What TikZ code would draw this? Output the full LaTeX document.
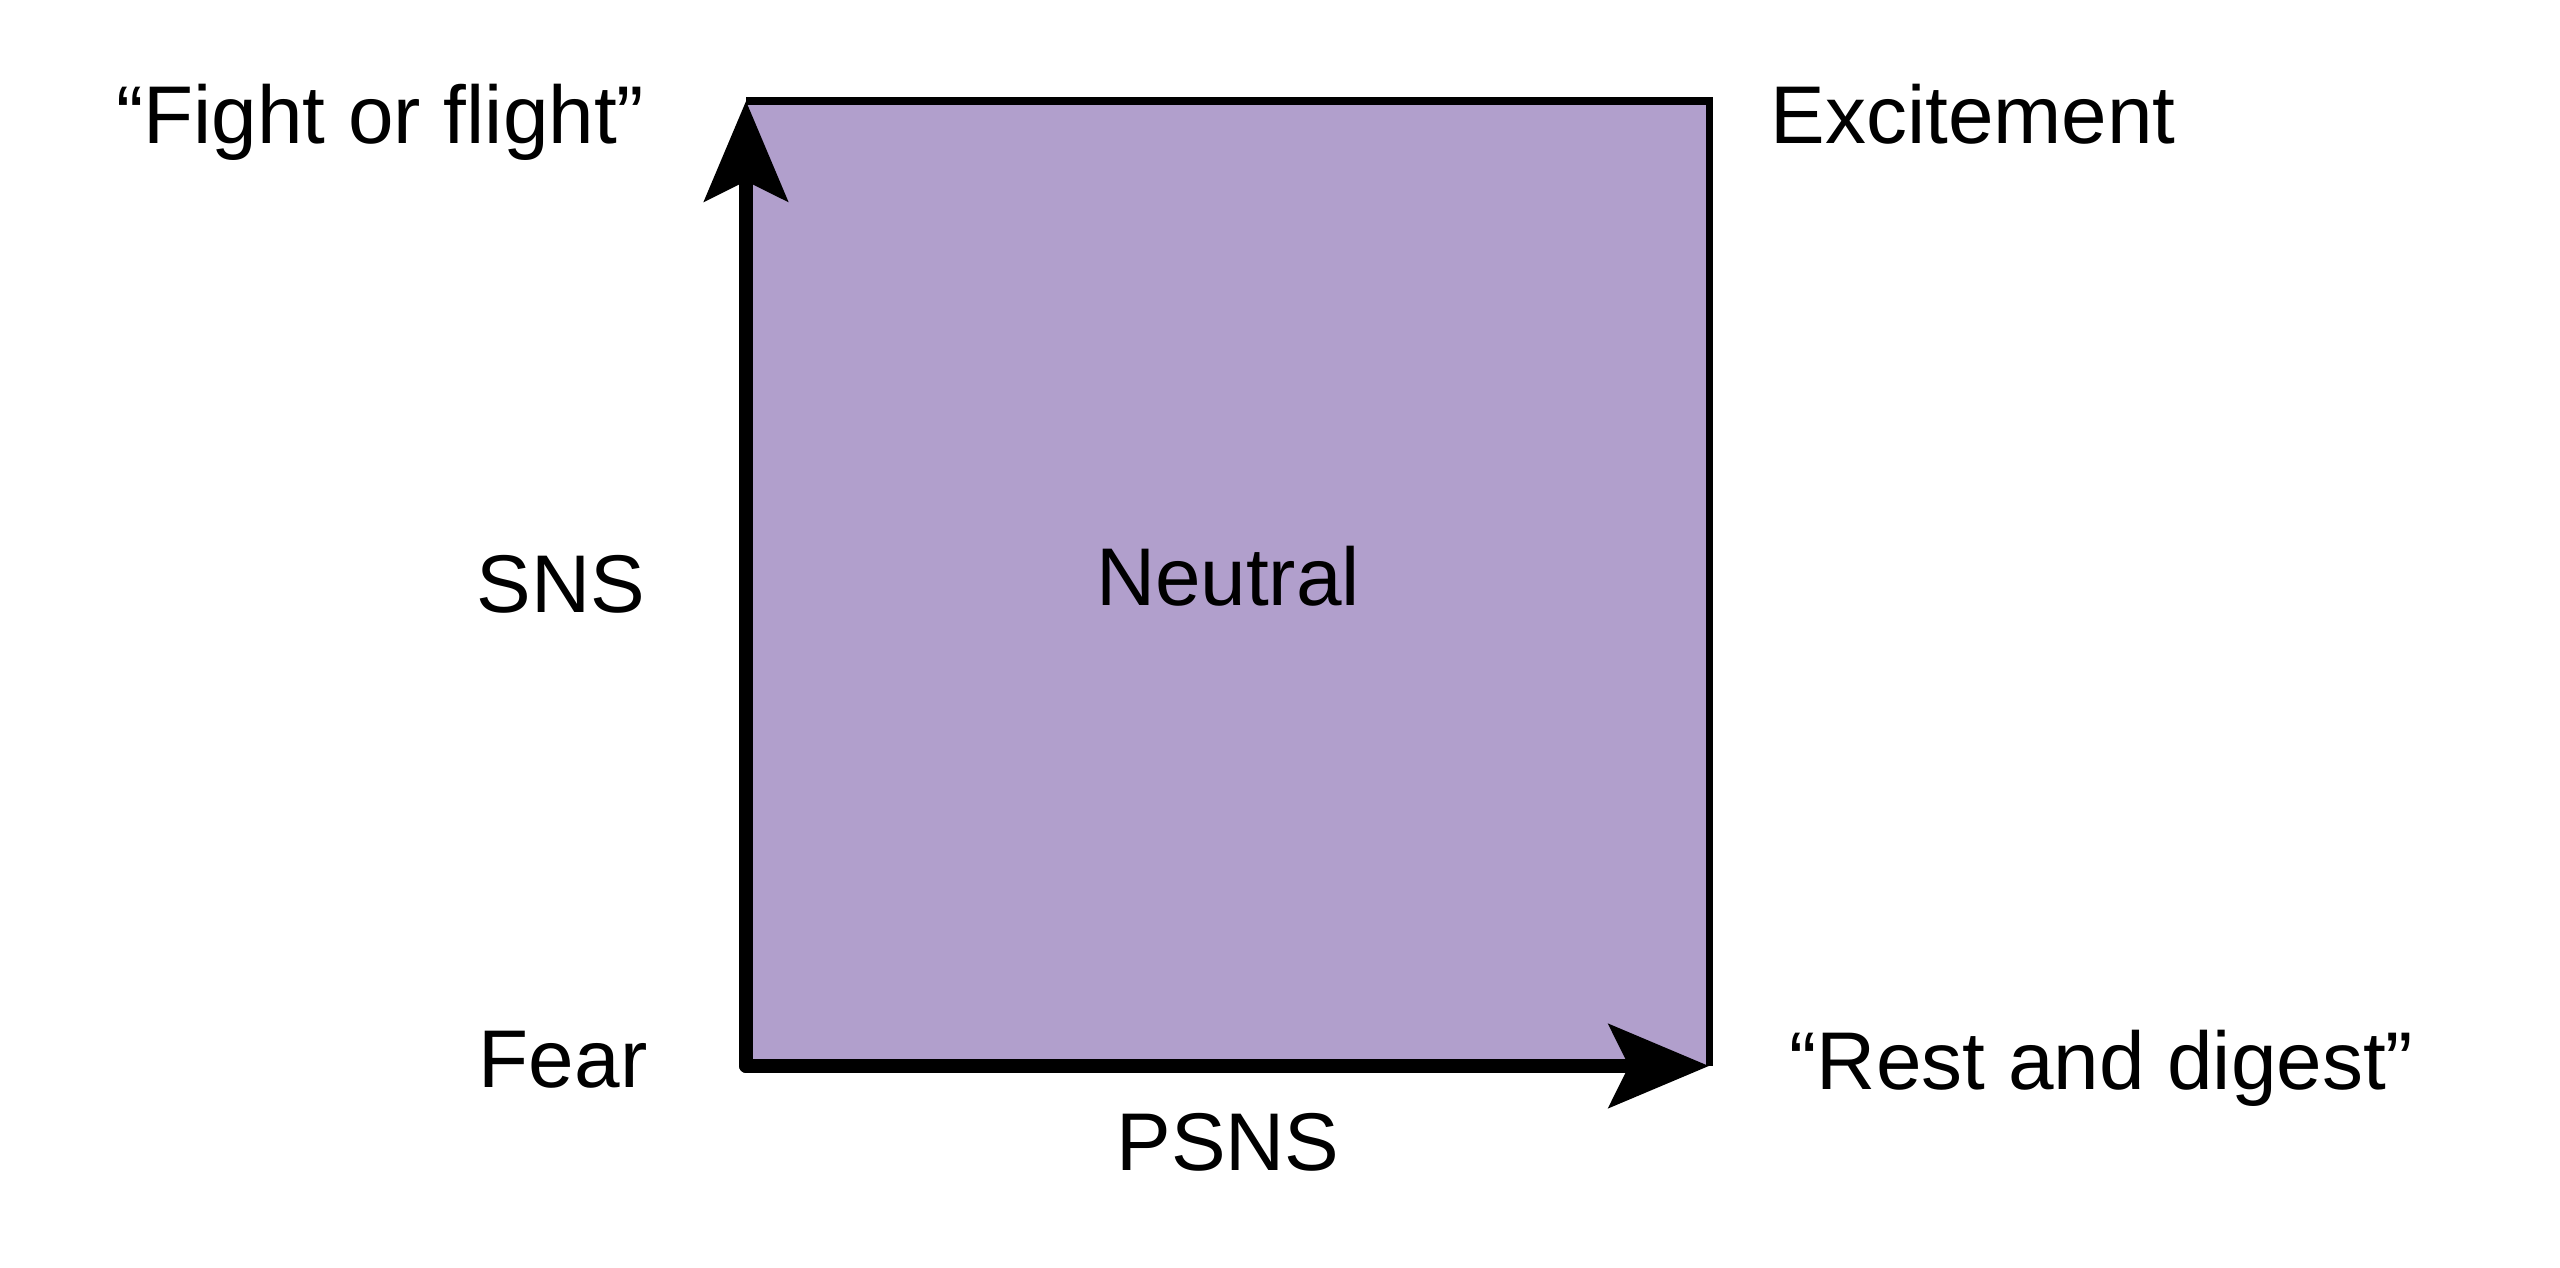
\documentclass[tikz,border=0pt]{standalone}
\usepackage{fontspec}
\setmainfont{Liberation Sans}
\usetikzlibrary{arrows.meta}
\definecolor{calmpurple}{RGB}{177, 159, 204}

\begin{document}
\begin{tikzpicture}[
    lbl/.style={inner sep=0pt, font=\fontsize{23.3}{27}\selectfont},
    border/.style={line width=2pt, line join=miter},
    axis/.style={line width=3.9pt, line cap=round,
        -{Stealth[length=1.0cm, width=0.83cm, inset=0.2cm]}}
]
                    \useasboundingbox (0,0) rectangle (25.6,12.67);
                    \coordinate (O) at (7.46,2.01);
                    \coordinate (S) at (7.46,11.66);
                    \coordinate (P) at (17.09,2.01);
                    \coordinate (C) at (17.09,11.66);
                    \fill[calmpurple] (O) rectangle (C);
                    \draw[border] (S) -- (C) -- (P);
                    \draw[axis] (O) -- (S);
                    \draw[axis] (O) -- (P);
                    \node[lbl, anchor=base east] (fight) at (6.45,11.23) {“Fight or flight”};
                    \node[lbl, anchor=base west] (excite) at (17.70,11.23) {Excitement};
                    \node[lbl, anchor=base east] (sns) at (6.46,6.54) {SNS};
                    \node[lbl, anchor=base] (neutral) at (12.28,6.61) {Neutral};
                    \node[lbl, anchor=base east] (fear) at (6.48,1.79) {Fear};
                    \node[lbl, anchor=base west] (rest) at (17.89,1.77) {“Rest and digest”};
                    \node[lbl, anchor=base] (psns) at (12.28,0.97) {PSNS};
                \end{tikzpicture}
\end{document}
